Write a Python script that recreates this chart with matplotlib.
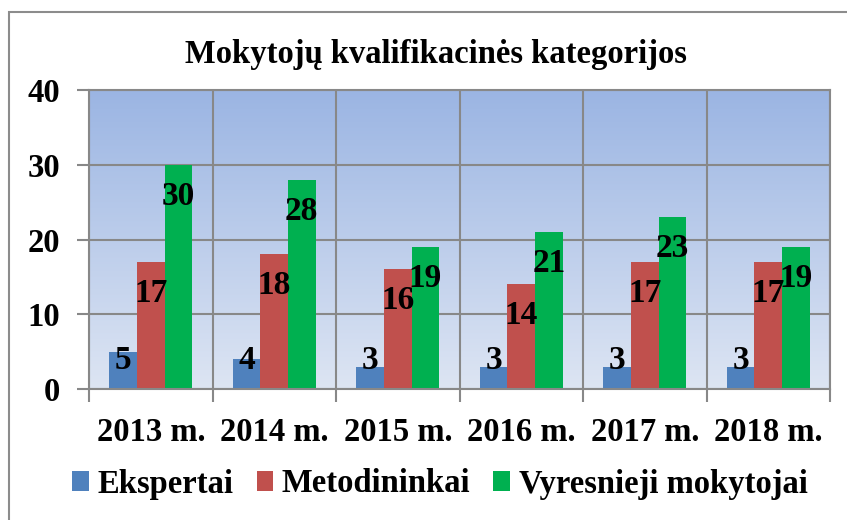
import matplotlib
matplotlib.use("Agg")
import matplotlib.pyplot as plt
from matplotlib.colors import LinearSegmentedColormap
from matplotlib.patches import Rectangle
import numpy as np

years = ["2013 m.", "2014 m.", "2015 m.", "2016 m.", "2017 m.", "2018 m."]
ekspertai = [5, 4, 3, 3, 3, 3]
metodininkai = [17, 18, 16, 14, 17, 17]
vyresnieji = [30, 28, 19, 21, 23, 19]
series_names = ["Ekspertai", "Metodininkai", "Vyresnieji mokytojai"]
series_colors = ["#4F81BD", "#C0504D", "#00B050"]
title = "Mokytojų kvalifikacinės kategorijos"

plt.rcParams.update({
    "font.family": "Liberation Serif",
    "font.weight": "bold",
})

W, H = 847, 520
FS = 23.5
fig = plt.figure(figsize=(W / 100, H / 100), dpi=100)
fig.patch.set_facecolor("white")

# outer chart border (runs past the right/bottom edge like the screenshot)
fig.patches.append(Rectangle((9 / W, -0.05), 1.2, 1 - 12 / H + 0.05,
                             transform=fig.transFigure, fill=False,
                             edgecolor="#8C8C8C", linewidth=1.5))

ax = fig.add_axes([89 / W, 1 - 389 / H, 741 / W, 299 / H])
ax.set_xlim(-0.5, len(years) - 0.5)
ax.set_ylim(0, 40)

# blue gradient background
cmap = LinearSegmentedColormap.from_list("bg", ["#DDE5F3", "#9BB5E3"])
grad = np.linspace(0, 1, 256).reshape(-1, 1)
ax.imshow(grad, cmap=cmap, origin="lower", aspect="auto",
          extent=[-0.5, len(years) - 0.5, 0, 40], zorder=0)

x = np.arange(len(years))
bw = 0.2227
grid_c = "#888888"
for i, (vals, col) in enumerate(zip([ekspertai, metodininkai, vyresnieji], series_colors)):
    pos = x + (i - 1) * bw
    ax.bar(pos, vals, width=bw, color=col, zorder=2, label=series_names[i])
    for px, v in zip(pos, vals):
        ty = max(v - 4.2, 3.85)
        ax.text(px, ty, str(v), ha="center", va="center", fontsize=24,
                fontweight="bold", color="black", zorder=3)

ax.set_yticks([0, 10, 20, 30, 40])
ax.set_yticklabels(["0", "10", "20", "30", "40"])
ax.set_xticks(x)
ax.set_xticklabels(years)
ax.set_xticks(np.arange(-0.5, len(years)), minor=True)
ax.tick_params(axis="x", which="major", length=0, pad=20, labelsize=FS)
ax.tick_params(axis="x", which="minor", length=9, width=1.5, color=grid_c)
ax.tick_params(axis="y", which="major", length=9, width=1.5, color=grid_c,
               pad=12, labelsize=FS)
ax.grid(True, axis="y", which="major", color=grid_c, linewidth=1.5, zorder=1)
ax.grid(True, axis="x", which="minor", color=grid_c, linewidth=1.5, zorder=1)
ax.set_axisbelow(True)
for sp in ax.spines.values():
    sp.set_color(grid_c)
    sp.set_linewidth(1.5)

fig.text(436 / W, 1 - 55 / H, title, ha="center", va="center",
         fontsize=FS, fontweight="bold")

fig.legend(loc="center", bbox_to_anchor=(440 / W, 1 - 484 / H), ncol=3,
           frameon=False, fontsize=FS, handlelength=0.5, handleheight=0.55,
           handletextpad=0.28, columnspacing=0.7)

fig.savefig("out.png", dpi=100)
